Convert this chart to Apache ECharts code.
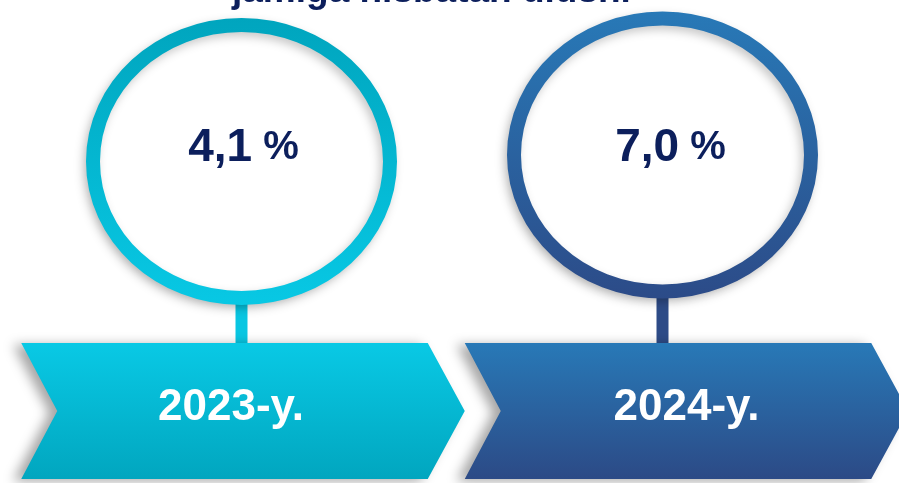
<!DOCTYPE html>
<html>
<head>
<meta charset="utf-8">
<script src="https://cdn.jsdelivr.net/npm/echarts@6/dist/echarts.min.js"></script>
<style>
  html, body { margin: 0; padding: 0; background: #fff; }
  #chart { width: 899px; height: 483px; }
</style>
</head>
<body>
<div id="chart"></div>
<script>
const titleText = 'jamiga nisbatan ulushi';
const years = ['2023-y.', '2024-y.'];
const shares = [4.1, 7.0];

// colours per year: [top, bottom]
const ringColors = [['#00a5be', '#08c8e4'], ['#2879b7', '#2c4b88']];
const arrowColors = [['#09c9e5', '#01a6bf'], ['#2879b7', '#2c4a86']];
const stemColors = ['#08c6e2', '#2d4b87'];
const navy = '#0c1f5c';

// small per-item nudges so things sit where the original has them
const circleShift = [-1.5, -24];
const circleY = [161.5, 155];
const yearShift = [-12, 0];
const valueShift = [2, 8];

const fontFamily = '"Liberation Sans", Arial, sans-serif';

function grad(c) {
  return new echarts.graphic.LinearGradient(0, 0, 0, 1, [
    { offset: 0, color: c[0] },
    { offset: 1, color: c[1] }
  ]);
}

function fmtShare(v) {
  return v.toFixed(1).replace('.', ',');
}

function renderItem(params, api) {
  const i = params.dataIndex;
  const c = api.coord([api.value(0), 0]);
  const band = api.size([1, 0])[0];
  const cx = c[0];
  const x0 = cx - band / 2;
  const x1 = cx + band / 2;
  const top = 343, bot = 479, mid = 411, tip = 37;

  const ex = cx + circleShift[i];
  const ey = circleY[i];
  const rx = 148.5, ry = 136.5, ringW = 14;

  return {
    type: 'group',
    children: [
      {
        type: 'rect',
        shape: { x: ex - 6, y: ey + ry, width: 12, height: top - (ey + ry) + 1 },
        style: { fill: stemColors[i] }
      },
      {
        type: 'ellipse',
        shape: { cx: ex, cy: ey, rx: rx, ry: ry },
        style: {
          fill: '#fff',
          stroke: grad(ringColors[i]),
          lineWidth: ringW,
          shadowBlur: 10,
          shadowOffsetX: -3,
          shadowOffsetY: 4,
          shadowColor: 'rgba(0,0,0,0.22)'
        }
      },
      {
        type: 'polygon',
        shape: {
          points: [
            [x0, top], [x1 - tip, top], [x1, mid],
            [x1 - tip, bot], [x0, bot], [x0 + 36, mid]
          ]
        },
        style: {
          fill: grad(arrowColors[i]),
          shadowBlur: 12,
          shadowOffsetX: -8,
          shadowOffsetY: 2,
          shadowColor: 'rgba(0,0,0,0.35)'
        }
      },
      {
        type: 'text',
        x: cx + yearShift[i],
        y: 408,
        style: {
          text: years[i],
          fill: '#fff',
          fontSize: 44,
          fontWeight: 'bold',
          fontFamily: fontFamily,
          align: 'center',
          verticalAlign: 'middle'
        }
      },
      {
        type: 'text',
        x: ex + valueShift[i],
        y: 148,
        style: {
          text: '{v|' + fmtShare(api.value(1)) + '}{p| %}',
          align: 'center',
          verticalAlign: 'middle',
          rich: {
            v: { fontSize: 46, fontWeight: 'bold', fontFamily: fontFamily, fill: navy },
            p: { fontSize: 40, fontWeight: 'bold', fontFamily: fontFamily, fill: navy }
          }
        }
      }
    ]
  };
}

const chart = echarts.init(document.getElementById('chart'), null, { renderer: 'canvas' });

chart.setOption({
  animation: false,
  graphic: [{
    type: 'text',
    left: 232,
    top: -27,
    style: {
      text: titleText,
      fill: navy,
      fontSize: 37,
      fontWeight: 'bold',
      fontFamily: fontFamily
    }
  }],
  grid: { left: 21.25, top: 0, width: 887, bottom: 0, outerBoundsMode: 'none', containLabel: false },
  xAxis: { type: 'category', data: years, show: false },
  yAxis: { type: 'value', min: 0, max: 1, show: false },
  series: [{
    type: 'custom',
    renderItem: renderItem,
    data: years.map((y, i) => [i, shares[i]]),
    clip: false
  }]
});
</script>
</body>
</html>
